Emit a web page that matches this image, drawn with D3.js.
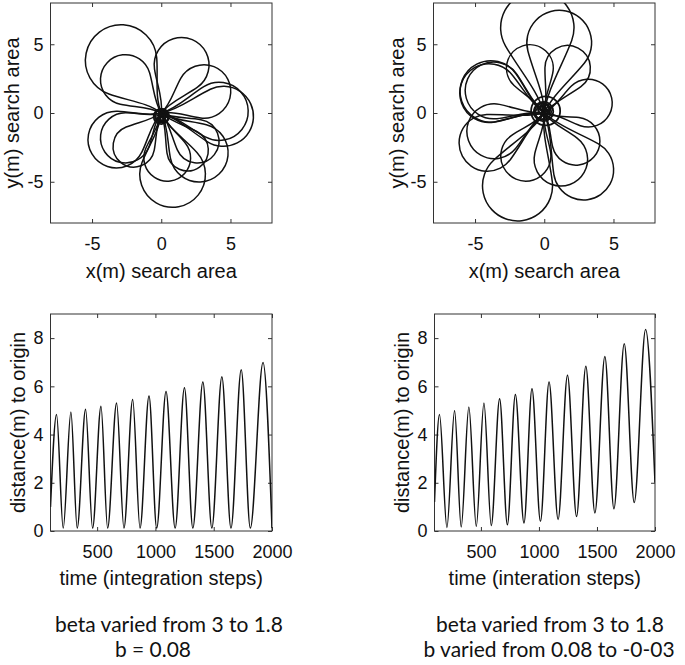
<!DOCTYPE html>
<html><head><meta charset="utf-8">
<script src="https://cdn.jsdelivr.net/npm/d3@7"></script>
<style>html,body{margin:0;padding:0;background:#fff;} svg{display:block;}</style>
</head><body>
<svg id="chart" width="685" height="665"></svg>
<script>
// ---------------- data ----------------
const spaceTicks = [-5, 0, 5];
const distTicks = [0, 2, 4, 6, 8];
const timeTicks = [500, 1000, 1500, 2000];

// top-left trajectory: loop circles (metres)
const loopCxL = [-2.9, -2.58, 1.47, 3.09, 4.49, 4.18, 2.73, 2.6, 0.82, 0.43, -1.98, -3.24, -2.58, 1.9];
const loopCyL = [3.82, 2.42, 3.50, 1.57, -0.24, 0.12, -2.9, -2.05, -4.47, -3.26, -2.42, -1.93, -1.81, -2.7];
const loopRL  = [2.58, 1.81, 1.98, 1.93, 2.17, 2.10, 2.10, 1.57, 2.37, 1.69, 1.50, 2.05, 1.81, 1.5];
const blobCxL = [0.05, 0.15, -0.05, 0.2, 0.1, 0.0, 0.12];
const blobCyL = [-0.2, -0.3, -0.15, -0.1, -0.35, -0.25, -0.05];
const blobRL  = [0.5, 0.35, 0.4, 0.25, 0.2, 0.55, 0.3];

// top-right trajectory
const loopCxR = [-0.5, 1.08, -1.04, 1.69, 3.18, 2.29, 2.84, 1.2, -1.93, -1.33, -4.1, -3.61, -3.86, -3.66, -3.98];
const loopCyR = [6.2, 5.11, 3.26, 3.26, 0.72, -2.05, -4.14, -3.37, -5.3, -3.13, -2.17, -1.33, 1.57, 1.64, 1.45];
const loopRR  = [2.65, 2.34, 1.69, 1.64, 1.73, 1.73, 2.17, 1.93, 2.53, 1.81, 2.05, 1.98, 2.22, 2.05, 2.12];
const blobCxR = [-0.1, 0.0, -0.2, 0.05, -0.15, -0.05, 0.1];
const blobCyR = [0.1, 0.2, 0.0, 0.05, 0.25, 0.1, 0.15];
const blobRR  = [0.6, 0.4, 0.45, 0.25, 0.3, 0.7, 1.05];

// bottom-left: distance to origin vs time
const timeL = [100, 152, 209, 275, 329, 401, 461, 533, 590, 667, 730, 805, 868, 945, 1011, 1091, 1169, 1249, 1321, 1407, 1484, 1570, 1648, 1736, 1814, 1923, 2000];
const distL = [1.0, 4.83, 0.12, 4.94, 0.12, 5.05, 0.12, 5.17, 0.12, 5.31, 0.12, 5.45, 0.12, 5.60, 0.12, 5.79, 0.12, 5.94, 0.12, 6.18, 0.12, 6.40, 0.12, 6.69, 0.12, 6.99, 0.12];

// bottom-right
const timeR = [100, 143, 207, 273, 330, 396, 460, 526, 589, 661, 728, 797, 871, 940, 1013, 1087, 1165, 1246, 1324, 1404, 1482, 1568, 1646, 1735, 1821, 1919, 2000];
const distR = [1.2, 4.83, 0.15, 5.00, 0.17, 5.14, 0.2, 5.31, 0.23, 5.49, 0.26, 5.66, 0.33, 5.90, 0.4, 6.18, 0.48, 6.46, 0.6, 6.83, 0.75, 7.24, 0.92, 7.77, 1.18, 8.36, 2.0];

const xLabelTop = "x(m) search area";
const yLabelTop = "y(m) search area";
const yLabelBottom = "distance(m) to origin";
const xLabelBL = "time (integration steps)";
const xLabelBR = "time (interation steps)";
const captionL = ["beta varied from 3 to 1.8", "b = 0.08"];
const captionR = ["beta varied from 3 to 1.8", "b varied from 0.08 to -0-03"];

// ---------------- drawing ----------------
const svg = d3.select("#chart");
const AX_FONT = "'Liberation Sans', Arial, Helvetica, sans-serif";
const INK = "#111";
const FRAME = "#333";

function makeAxes(box, xDomain, yDomain, xTicks, yTicks, xLabel, yLabel, yLabelX, xLabelY) {
  const xs = d3.scaleLinear().domain(xDomain).range([box.x0, box.x1]);
  const ys = d3.scaleLinear().domain(yDomain).range([box.y1, box.y0]);
  const g = svg.append("g");
  const fmt = d => String(d);
  const style = sel => {
    sel.select(".domain").remove();
    sel.selectAll(".tick line").attr("stroke", FRAME);
    sel.selectAll(".tick text").attr("font-family", AX_FONT).attr("font-size", 18).attr("fill", INK);
  };
  g.append("g").attr("transform", `translate(0,${box.y1})`)
    .call(d3.axisBottom(xs).tickValues(xTicks).tickSizeInner(-4).tickSizeOuter(0).tickPadding(14).tickFormat(fmt)).call(style);
  g.append("g").attr("transform", `translate(0,${box.y0})`)
    .call(d3.axisTop(xs).tickValues(xTicks).tickSizeInner(-4).tickSizeOuter(0).tickFormat("")).call(style);
  g.append("g").attr("transform", `translate(${box.x0},0)`)
    .call(d3.axisLeft(ys).tickValues(yTicks).tickSizeInner(-4).tickSizeOuter(0).tickPadding(7).tickFormat(fmt)).call(style);
  g.append("g").attr("transform", `translate(${box.x1},0)`)
    .call(d3.axisRight(ys).tickValues(yTicks).tickSizeInner(-4).tickSizeOuter(0).tickFormat("")).call(style);
  g.append("rect").attr("x", box.x0).attr("y", box.y0)
    .attr("width", box.x1 - box.x0).attr("height", box.y1 - box.y0)
    .attr("fill", "none").attr("stroke", FRAME).attr("stroke-width", 1);
  g.append("text").attr("x", (box.x0 + box.x1) / 2).attr("y", xLabelY)
    .attr("text-anchor", "middle").attr("font-family", AX_FONT).attr("font-size", 20).attr("fill", INK)
    .text(xLabel);
  g.append("text").attr("transform", `translate(${yLabelX},${(box.y0 + box.y1) / 2}) rotate(-90)`)
    .attr("text-anchor", "middle").attr("font-family", AX_FONT).attr("font-size", 20).attr("fill", INK)
    .text(yLabel);
  return { xs, ys, g };
}

function clipFor(box, id) {
  svg.append("clipPath").attr("id", id).append("rect")
    .attr("x", box.x0).attr("y", box.y0).attr("width", box.x1 - box.x0).attr("height", box.y1 - box.y0);
  return `url(#${id})`;
}

function loopPath(cx, cy, r, xs, ys) {
  const ox = xs(0), oy = ys(0);
  const px = xs(cx), py = ys(cy);
  const pr = Math.abs(xs(r) - xs(0));
  const dx = px - ox, dy = py - oy, d = Math.hypot(dx, dy);
  const phi = Math.atan2(dy, dx);
  const a = Math.asin(Math.min(0.97, pr / d));
  const b1 = phi + Math.PI / 2 + a, b2 = phi - Math.PI / 2 - a;
  const t1 = [px + pr * Math.cos(b1), py + pr * Math.sin(b1)];
  const t2 = [px + pr * Math.cos(b2), py + pr * Math.sin(b2)];
  const ux = dx / d, uy = dy / d;
  // first control point: blend of axis direction and straight tangent direction
  const c1a = [ox + 0.5 * (ux * d * 0.3) + 0.5 * (t1[0] - ox) * 0.3, oy + 0.5 * (uy * d * 0.3) + 0.5 * (t1[1] - oy) * 0.3];
  const c1b = [ox + 0.5 * (ux * d * 0.3) + 0.5 * (t2[0] - ox) * 0.3, oy + 0.5 * (uy * d * 0.3) + 0.5 * (t2[1] - oy) * 0.3];
  const p = d3.path();
  p.moveTo(ox, oy);
  p.bezierCurveTo(c1a[0], c1a[1],
                  t1[0] + (ox - t1[0]) * 0.35, t1[1] + (oy - t1[1]) * 0.35, t1[0], t1[1]);
  p.arc(px, py, pr, b1, b2, true);
  p.bezierCurveTo(t2[0] + (ox - t2[0]) * 0.35, t2[1] + (oy - t2[1]) * 0.35,
                  c1b[0], c1b[1], ox, oy);
  return p.toString();
}

function drawTrajectory(ax, clip, cxs, cys, rs, bx, by, br) {
  const layer = ax.g.append("g").attr("clip-path", clip);
  layer.selectAll("path.loop").data(d3.range(cxs.length)).join("path")
    .attr("class", "loop")
    .attr("d", i => loopPath(cxs[i], cys[i], rs[i], ax.xs, ax.ys))
    .attr("fill", "none").attr("stroke", INK).attr("stroke-width", 1.5);
  layer.selectAll("circle.blob").data(d3.range(bx.length)).join("circle")
    .attr("class", "blob")
    .attr("cx", i => ax.xs(bx[i])).attr("cy", i => ax.ys(by[i]))
    .attr("r", i => Math.abs(ax.xs(br[i]) - ax.xs(0)))
    .attr("fill", "none").attr("stroke", INK).attr("stroke-width", 1.8);
}

function drawSeries(ax, clip, ts, vs) {
  const line = d3.line().x(i => ax.xs(ts[i])).y(i => ax.ys(vs[i])).curve(d3.curveMonotoneX);
  ax.g.append("path").attr("clip-path", clip)
    .attr("d", line(d3.range(ts.length)))
    .attr("fill", "none").attr("stroke", INK).attr("stroke-width", 1.5);
}

const boxTL = { x0: 50.5, x1: 272, y0: 3, y1: 223 };
const boxTR = { x0: 433.5, x1: 655, y0: 3, y1: 223 };
const boxBL = { x0: 50.5, x1: 272, y0: 314, y1: 531 };
const boxBR = { x0: 434.5, x1: 655, y0: 314, y1: 531 };

const axTL = makeAxes(boxTL, [-8, 8], [-8, 8], spaceTicks, spaceTicks, xLabelTop, yLabelTop, 19, 278);
const axTR = makeAxes(boxTR, [-8, 8], [-8, 8], spaceTicks, spaceTicks, xLabelTop, yLabelTop, 404, 278);
const axBL = makeAxes(boxBL, [100, 2000], [0, 9], timeTicks, distTicks, xLabelBL, yLabelBottom, 25, 585);
const axBR = makeAxes(boxBR, [100, 2000], [0, 9], timeTicks, distTicks, xLabelBR, yLabelBottom, 409, 585);

drawTrajectory(axTL, clipFor(boxTL, "cTL"), loopCxL, loopCyL, loopRL, blobCxL, blobCyL, blobRL);
drawTrajectory(axTR, clipFor(boxTR, "cTR"), loopCxR, loopCyR, loopRR, blobCxR, blobCyR, blobRR);
drawSeries(axBL, clipFor(boxBL, "cBL"), timeL, distL);
drawSeries(axBR, clipFor(boxBR, "cBR"), timeR, distR);

// captions
const CAP_FONT = "Lato, 'Open Sans', sans-serif";
function caption(lines, x1, x2mid) {
  const t1 = svg.append("text").attr("x", x1).attr("y", 632)
    .attr("font-family", CAP_FONT).attr("font-size", 20).attr("fill", INK).text(lines[0]);
  const w = t1.node().getComputedTextLength();
  const fs = 20 * 228 / w;
  t1.attr("font-size", fs);
  svg.append("text").attr("x", x2mid).attr("y", 657)
    .attr("text-anchor", "middle")
    .attr("font-family", CAP_FONT).attr("font-size", fs).attr("fill", INK).text(lines[1]);
}
caption(captionL, 55, 153);
caption(captionR, 436, 549);
</script>
</body></html>
